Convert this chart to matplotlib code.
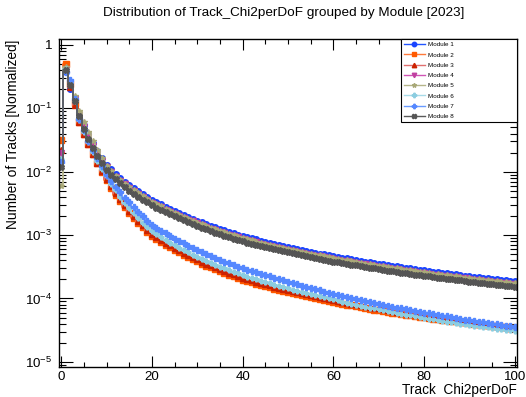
import matplotlib
matplotlib.use("Agg")
import matplotlib.pyplot as plt
import numpy as np
from matplotlib.ticker import MultipleLocator, LogLocator, FuncFormatter, NullFormatter
from matplotlib.lines import Line2D

plt.rcParams['font.family'] = ['Liberation Sans', 'DejaVu Sans']
plt.rcParams['mathtext.fontset'] = 'custom'
plt.rcParams['mathtext.rm'] = 'Liberation Sans'
plt.rcParams['mathtext.it'] = 'Liberation Sans:italic'
plt.rcParams['mathtext.bf'] = 'Liberation Sans:bold'

# bin centres of Track_Chi2perDoF (one bin per unit)
chi2 = np.arange(0, 101)

module1 = [1.5e-2, 3.8e-1, 2.0e-1, 1.4e-1, 8.0e-2, 5.5e-2, 3.9e-2, 2.8e-2, 2.1e-2, 1.65e-2,
           1.30e-2, 1.09e-2, 9.3e-3, 8.0e-3, 7.0e-3, 6.1e-3, 5.5e-3, 4.9e-3, 4.4e-3, 4.0e-3,
           3.6e-3, 3.3e-3, 3.05e-3, 2.8e-3, 2.6e-3, 2.43e-3, 2.25e-3, 2.09e-3, 1.95e-3, 1.82e-3,
           1.70e-3, 1.60e-3, 1.50e-3, 1.41e-3, 1.33e-3, 1.26e-3, 1.19e-3, 1.13e-3, 1.07e-3, 1.02e-3,
           9.7e-4, 9.28e-4, 8.89e-4, 8.58e-4, 8.17e-4, 7.85e-4, 7.54e-4, 7.25e-4, 6.99e-4, 6.73e-4,
           6.49e-4, 6.26e-4, 6.05e-4, 5.85e-4, 5.65e-4, 5.47e-4, 5.29e-4, 5.08e-4, 4.97e-4, 4.82e-4,
           4.67e-4, 4.54e-4, 4.41e-4, 4.28e-4, 4.16e-4, 4.05e-4, 3.94e-4, 3.83e-4, 3.73e-4, 3.64e-4,
           3.54e-4, 3.47e-4, 3.37e-4, 3.29e-4, 3.21e-4, 3.13e-4, 3.06e-4, 2.98e-4, 2.92e-4, 2.85e-4,
           2.79e-4, 2.72e-4, 2.66e-4, 2.61e-4, 2.55e-4, 2.50e-4, 2.45e-4, 2.40e-4, 2.38e-4, 2.30e-4,
           2.25e-4, 2.21e-4, 2.17e-4, 2.12e-4, 2.08e-4, 2.06e-4, 2.01e-4, 1.97e-4, 1.93e-4, 1.90e-4,
           1.86e-4]
module2 = [3.2e-2, 5.0e-1, 2.4e-1, 1.2e-1, 6.2e-2, 4.0e-2, 2.7e-2, 1.9e-2, 1.35e-2, 1.00e-2,
           7.5e-3, 5.5e-3, 4.3e-3, 3.4e-3, 2.73e-3, 2.24e-3, 1.86e-3, 1.55e-3, 1.32e-3, 1.13e-3,
           9.8e-4, 8.73e-4, 7.84e-4, 7.08e-4, 6.42e-4, 5.85e-4, 5.34e-4, 4.90e-4, 4.50e-4, 4.16e-4,
           3.84e-4, 3.56e-4, 3.31e-4, 3.09e-4, 2.88e-4, 2.70e-4, 2.53e-4, 2.37e-4, 2.23e-4, 2.10e-4,
           1.98e-4, 1.89e-4, 1.79e-4, 1.71e-4, 1.64e-4, 1.56e-4, 1.50e-4, 1.43e-4, 1.38e-4, 1.32e-4,
           1.26e-4, 1.22e-4, 1.17e-4, 1.13e-4, 1.09e-4, 1.05e-4, 1.01e-4, 9.8e-5, 9.4e-5, 9.1e-5,
           8.8e-5, 8.5e-5, 8.25e-5, 8.0e-5, 7.75e-5, 7.5e-5, 7.3e-5, 7.1e-5, 6.9e-5, 6.7e-5,
           6.5e-5, 6.3e-5, 6.15e-5, 6.0e-5, 5.85e-5, 5.7e-5, 5.55e-5, 5.42e-5, 5.3e-5, 5.17e-5,
           5.05e-5, 4.95e-5, 4.83e-5, 4.73e-5, 4.63e-5, 4.53e-5, 4.44e-5, 4.35e-5, 4.26e-5, 4.18e-5,
           4.1e-5, 4.02e-5, 3.94e-5, 3.86e-5, 3.79e-5, 3.71e-5, 3.64e-5, 3.57e-5, 3.5e-5, 3.44e-5,
           3.37e-5]
module3 = [2.2e-2, 4.2e-1, 2.2e-1, 1.15e-1, 6.0e-2, 4.0e-2, 2.7e-2, 1.9e-2, 1.38e-2, 1.03e-2,
           7.8e-3, 5.92e-3, 4.60e-3, 3.65e-3, 2.94e-3, 2.41e-3, 2.00e-3, 1.67e-3, 1.42e-3, 1.21e-3,
           1.05e-3, 9.39e-4, 8.43e-4, 7.61e-4, 6.90e-4, 6.29e-4, 5.74e-4, 5.27e-4, 4.84e-4, 4.47e-4,
           4.13e-4, 3.83e-4, 3.56e-4, 3.32e-4, 3.10e-4, 2.90e-4, 2.72e-4, 2.55e-4, 2.40e-4, 2.26e-4,
           2.13e-4, 2.03e-4, 1.93e-4, 1.84e-4, 1.76e-4, 1.68e-4, 1.61e-4, 1.54e-4, 1.48e-4, 1.42e-4,
           1.36e-4, 1.31e-4, 1.26e-4, 1.21e-4, 1.17e-4, 1.13e-4, 1.09e-4, 1.05e-4, 1.01e-4, 9.79e-5,
           9.47e-5, 9.16e-5, 8.87e-5, 8.59e-5, 8.32e-5, 8.07e-5, 7.82e-5, 7.59e-5, 7.37e-5, 7.16e-5,
           6.96e-5, 6.76e-5, 6.57e-5, 6.39e-5, 6.22e-5, 6.06e-5, 5.90e-5, 5.75e-5, 5.60e-5, 5.46e-5,
           5.33e-5, 5.19e-5, 5.07e-5, 5.12e-5, 4.83e-5, 4.72e-5, 4.61e-5, 4.62e-5, 4.40e-5, 4.30e-5,
           4.21e-5, 4.12e-5, 3.90e-5, 3.94e-5, 3.86e-5, 3.78e-5, 3.70e-5, 3.62e-5, 3.55e-5, 3.48e-5,
           3.41e-5]
module4 = [2.0e-2, 4.2e-1, 2.5e-1, 1.4e-1, 7.8e-2, 5.0e-2, 3.5e-2, 2.52e-2, 1.89e-2, 1.49e-2,
           1.17e-2, 9.8e-3, 8.4e-3, 7.2e-3, 6.3e-3, 5.5e-3, 4.95e-3, 4.4e-3, 3.96e-3, 3.6e-3,
           3.24e-3, 2.97e-3, 2.75e-3, 2.52e-3, 2.34e-3, 2.19e-3, 2.03e-3, 1.88e-3, 1.76e-3, 1.64e-3,
           1.53e-3, 1.44e-3, 1.35e-3, 1.27e-3, 1.20e-3, 1.13e-3, 1.07e-3, 1.02e-3, 9.6e-4, 9.2e-4,
           8.7e-4, 8.35e-4, 8.0e-4, 7.67e-4, 7.35e-4, 7.07e-4, 6.79e-4, 6.53e-4, 6.29e-4, 6.06e-4,
           5.84e-4, 5.63e-4, 5.45e-4, 5.27e-4, 5.09e-4, 4.92e-4, 4.76e-4, 4.62e-4, 4.47e-4, 4.34e-4,
           4.20e-4, 4.09e-4, 3.97e-4, 3.85e-4, 3.74e-4, 3.65e-4, 3.55e-4, 3.45e-4, 3.36e-4, 3.28e-4,
           3.19e-4, 3.11e-4, 3.03e-4, 2.96e-4, 2.89e-4, 2.82e-4, 2.75e-4, 2.68e-4, 2.63e-4, 2.57e-4,
           2.51e-4, 2.45e-4, 2.39e-4, 2.35e-4, 2.30e-4, 2.25e-4, 2.21e-4, 2.16e-4, 2.12e-4, 2.07e-4,
           2.03e-4, 1.99e-4, 1.95e-4, 1.91e-4, 1.87e-4, 1.84e-4, 1.81e-4, 1.77e-4, 1.74e-4, 1.71e-4,
           1.67e-4]
module5 = [6.0e-3, 4.5e-1, 2.7e-1, 1.55e-1, 9.2e-2, 6.2e-2, 4.2e-2, 3.0e-2, 2.2e-2, 1.65e-2,
           1.25e-2, 1.01e-2, 8.6e-3, 7.4e-3, 6.5e-3, 5.7e-3, 5.1e-3, 4.56e-3, 4.09e-3, 3.72e-3,
           3.35e-3, 3.07e-3, 2.84e-3, 2.60e-3, 2.42e-3, 2.26e-3, 2.09e-3, 1.94e-3, 1.81e-3, 1.69e-3,
           1.58e-3, 1.49e-3, 1.40e-3, 1.31e-3, 1.24e-3, 1.17e-3, 1.11e-3, 1.05e-3, 9.95e-4, 9.49e-4,
           9.02e-4, 8.63e-4, 8.27e-4, 7.92e-4, 7.60e-4, 7.30e-4, 7.01e-4, 6.74e-4, 6.50e-4, 6.26e-4,
           6.04e-4, 5.82e-4, 5.63e-4, 5.44e-4, 5.25e-4, 5.09e-4, 4.92e-4, 4.77e-4, 4.62e-4, 4.48e-4,
           4.34e-4, 4.22e-4, 4.10e-4, 3.98e-4, 3.87e-4, 3.77e-4, 3.66e-4, 3.56e-4, 3.47e-4, 3.39e-4,
           3.29e-4, 3.21e-4, 3.13e-4, 3.06e-4, 2.99e-4, 2.91e-4, 2.85e-4, 2.77e-4, 2.72e-4, 2.65e-4,
           2.59e-4, 2.53e-4, 2.47e-4, 2.43e-4, 2.37e-4, 2.33e-4, 2.28e-4, 2.23e-4, 2.19e-4, 2.14e-4,
           2.09e-4, 2.06e-4, 2.02e-4, 1.97e-4, 1.93e-4, 1.90e-4, 1.87e-4, 1.83e-4, 1.79e-4, 1.77e-4,
           1.73e-4]
module6 = [1.6e-2, 4.2e-1, 2.6e-1, 1.3e-1, 6.6e-2, 4.3e-2, 2.9e-2, 2.05e-2, 1.5e-2, 1.12e-2,
           8.5e-3, 6.5e-3, 5.1e-3, 4.0e-3, 3.23e-3, 2.65e-3, 2.20e-3, 1.84e-3, 1.56e-3, 1.33e-3,
           1.16e-3, 1.03e-3, 9.27e-4, 8.37e-4, 7.59e-4, 6.92e-4, 6.31e-4, 5.80e-4, 5.32e-4, 4.92e-4,
           4.54e-4, 4.21e-4, 3.92e-4, 3.65e-4, 3.41e-4, 3.19e-4, 2.99e-4, 2.81e-4, 2.64e-4, 2.49e-4,
           2.34e-4, 2.22e-4, 2.10e-4, 2.00e-4, 1.91e-4, 1.81e-4, 1.73e-4, 1.65e-4, 1.58e-4, 1.51e-4,
           1.44e-4, 1.38e-4, 1.33e-4, 1.27e-4, 1.22e-4, 1.18e-4, 1.13e-4, 1.09e-4, 1.04e-4, 1.01e-4,
           9.7e-5, 9.3e-5, 8.9e-5, 8.6e-5, 8.3e-5, 8.0e-5, 7.7e-5, 7.45e-5, 7.2e-5, 6.95e-5,
           6.75e-5, 6.5e-5, 6.3e-5, 6.1e-5, 5.9e-5, 5.75e-5, 5.58e-5, 5.42e-5, 5.26e-5, 5.1e-5,
           4.96e-5, 4.8e-5, 4.68e-5, 4.56e-5, 4.44e-5, 4.33e-5, 4.22e-5, 4.12e-5, 4.02e-5, 3.92e-5,
           3.83e-5, 3.74e-5, 3.65e-5, 3.57e-5, 3.49e-5, 3.41e-5, 3.34e-5, 3.26e-5, 3.19e-5, 3.13e-5,
           3.07e-5]
module7 = [1.4e-2, 3.8e-1, 2.8e-1, 1.4e-1, 6.8e-2, 4.5e-2, 3.1e-2, 2.2e-2, 1.63e-2, 1.21e-2,
           9.0e-3, 7.1e-3, 5.75e-3, 4.75e-3, 3.91e-3, 3.28e-3, 2.76e-3, 2.34e-3, 1.99e-3, 1.69e-3,
           1.47e-3, 1.315e-3, 1.18e-3, 1.065e-3, 9.66e-4, 8.81e-4, 8.04e-4, 7.38e-4, 6.78e-4, 6.26e-4,
           5.78e-4, 5.36e-4, 4.98e-4, 4.65e-4, 4.34e-4, 4.06e-4, 3.81e-4, 3.57e-4, 3.36e-4, 3.16e-4,
           2.98e-4, 2.84e-4, 2.70e-4, 2.58e-4, 2.46e-4, 2.35e-4, 2.24e-4, 2.13e-4, 2.03e-4, 1.93e-4,
           1.84e-4, 1.76e-4, 1.68e-4, 1.60e-4, 1.53e-4, 1.47e-4, 1.40e-4, 1.35e-4, 1.28e-4, 1.24e-4,
           1.19e-4, 1.15e-4, 1.10e-4, 1.06e-4, 1.02e-4, 9.85e-5, 9.5e-5, 9.15e-5, 8.8e-5, 8.5e-5,
           8.25e-5, 7.95e-5, 7.7e-5, 7.45e-5, 7.2e-5, 7.0e-5, 6.75e-5, 6.55e-5, 6.35e-5, 6.15e-5,
           6.0e-5, 5.8e-5, 5.65e-5, 5.5e-5, 5.35e-5, 5.2e-5, 5.05e-5, 4.9e-5, 4.78e-5, 4.65e-5,
           4.52e-5, 4.4e-5, 4.3e-5, 4.18e-5, 4.08e-5, 3.98e-5, 3.89e-5, 3.8e-5, 3.72e-5, 3.64e-5,
           3.6e-5]
module8 = [1.2e-2, 4.0e-1, 2.3e-1, 1.3e-1, 7.5e-2, 4.8e-2, 3.3e-2, 2.4e-2, 1.75e-2, 1.37e-2,
           1.07e-2, 8.9e-3, 7.6e-3, 6.6e-3, 5.7e-3, 5.0e-3, 4.5e-3, 4.0e-3, 3.6e-3, 3.28e-3,
           2.95e-3, 2.71e-3, 2.50e-3, 2.30e-3, 2.13e-3, 1.99e-3, 1.85e-3, 1.71e-3, 1.60e-3, 1.49e-3,
           1.39e-3, 1.31e-3, 1.23e-3, 1.16e-3, 1.09e-3, 1.03e-3, 9.76e-4, 9.27e-4, 8.77e-4, 8.36e-4,
           7.95e-4, 7.61e-4, 7.29e-4, 6.99e-4, 6.70e-4, 6.44e-4, 6.18e-4, 5.95e-4, 5.73e-4, 5.52e-4,
           5.32e-4, 5.13e-4, 4.96e-4, 4.80e-4, 4.63e-4, 4.49e-4, 4.34e-4, 4.21e-4, 4.08e-4, 3.95e-4,
           3.83e-4, 3.72e-4, 3.62e-4, 3.51e-4, 3.41e-4, 3.32e-4, 3.23e-4, 3.14e-4, 3.06e-4, 2.98e-4,
           2.90e-4, 2.83e-4, 2.76e-4, 2.70e-4, 2.63e-4, 2.57e-4, 2.51e-4, 2.44e-4, 2.39e-4, 2.34e-4,
           2.29e-4, 2.23e-4, 2.18e-4, 2.14e-4, 2.09e-4, 2.05e-4, 2.01e-4, 1.97e-4, 1.93e-4, 1.89e-4,
           1.85e-4, 1.81e-4, 1.78e-4, 1.74e-4, 1.71e-4, 1.67e-4, 1.65e-4, 1.62e-4, 1.58e-4, 1.56e-4,
           1.53e-4]

labels = ['Module 1', 'Module 2', 'Module 3', 'Module 4',
          'Module 5', 'Module 6', 'Module 7', 'Module 8']
series = [module1, module2, module3, module4, module5, module6, module7, module8]
line_colors = ['#2255ff', '#ff7a3a', '#e07070', '#d055b5', '#b5b58a', '#a8dbe8', '#6a9bff', '#5a5a5a']
marker_colors = ['#1a44ff', '#ff5a00', '#cc2200', '#c040a0', '#a8a878', '#8ccde0', '#5588ff', '#555555']
markers = ['o', 's', '^', 'v', '*', 'P', 'P', 'X']
msizes = [4.0, 4.0, 4.3, 4.3, 4.0, 3.5, 4.6, 4.0]

fig = plt.figure(figsize=(5.26, 3.97), dpi=100)
ax = fig.add_axes([0.112, 0.0756, 0.871, 0.826])

handles = []
for y, lab, lc, mc, mk, ms in zip(series, labels, line_colors, marker_colors, markers, msizes):
    ax.step(chi2, y, where='mid', color=lc, lw=1.3)
    ax.plot(chi2, y, ls='none', marker=mk, ms=ms, color=mc, mec=mc)
    handles.append(Line2D([], [], color=lc, lw=1.0, marker=mk, ms=3.2, mfc=mc, mec=mc, label=lab))

ax.set_yscale('log')
ax.set_xlim(-0.5, 100.5)
ax.set_ylim(8.3e-6, 1.24)

ax.xaxis.set_major_locator(MultipleLocator(20))
ax.xaxis.set_minor_locator(MultipleLocator(5))
ax.yaxis.set_major_locator(LogLocator(base=10, numticks=10))
ax.yaxis.set_minor_locator(LogLocator(base=10, subs=np.arange(2, 10), numticks=20))
ax.yaxis.set_minor_formatter(NullFormatter())


def decade(v, pos):
    e = int(round(np.log10(v)))
    return '1' if e == 0 else r'$10^{%d}$' % e


ax.yaxis.set_major_formatter(FuncFormatter(decade))

ax.tick_params(which='both', direction='in', top=True, right=True, width=0.8, labelsize=9.6)
ax.tick_params(axis='x', which='major', length=8, pad=3)
ax.tick_params(axis='x', which='minor', length=3.5)
ax.tick_params(axis='y', which='major', length=10, pad=5)
ax.tick_params(axis='y', which='minor', length=5)
for sp in ax.spines.values():
    sp.set_linewidth(1.0)

fig.text(13 / 526, 1 - 40 / 397, 'Number of Tracks [Normalized]', rotation=90,
         ha='center', va='top', fontsize=9.9)
ax.set_xlabel('Track  Chi2perDoF', fontsize=9.8, loc='right', labelpad=0)

fig.text(0.54, 0.968, 'Distribution of Track_Chi2perDoF grouped by Module [2023]',
         ha='center', va='center', fontsize=9.7)

leg = ax.legend(handles=handles, loc='upper left', bbox_to_anchor=(0.746, 0.75, 0.254, 0.25),
                mode='expand', borderaxespad=0, fontsize=4.5, frameon=True, fancybox=False,
                edgecolor='black', framealpha=1, handlelength=3.4, handletextpad=0.5,
                labelspacing=0.78, borderpad=0.45)
leg.get_frame().set_linewidth(0.8)

plt.savefig('out.png', dpi=100)
